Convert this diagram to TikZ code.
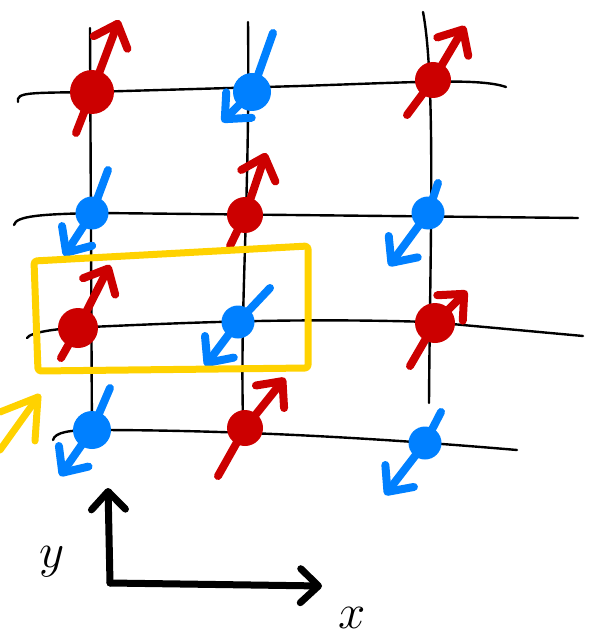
\documentclass[tikz,border=0pt]{standalone}
\usetikzlibrary{arrows.meta}
\definecolor{spinred}{HTML}{CC0000}
\definecolor{spinblue}{HTML}{0080FF}
\definecolor{hlyellow}{HTML}{FFD200}
\begin{document}
\begin{tikzpicture}[x=1pt,y=-1pt,
  gridline/.style={line width=2.4pt,line cap=round},
  spinarrow/.style={line width=8pt,line cap=round,line join=round,
    -{Straight Barb[length=20pt,width=36pt,line cap=round,line join=round]}},
  reddot/.style={circle,fill=spinred,minimum size=36pt,inner sep=0pt},
  bluedot/.style={circle,fill=spinblue,minimum size=33pt,inner sep=0pt},
  hlbox/.style={draw=hlyellow,line width=7pt,line join=round,rounded corners=3pt},
  axis/.style={line width=7pt,line cap=round,line join=round},
  axlabel/.style={inner sep=0pt,font=\Large,scale=3.4}]
\useasboundingbox (0,0) rectangle (590,639);

% grid lines
\coordinate (v1t) at (90,28);  \coordinate (v1b) at (92,445);
\coordinate (v2t) at (248,22); \coordinate (v2b) at (243,420);
\coordinate (v3t) at (423,12); \coordinate (v3b) at (429,403);
\draw[gridline] (v1t) -- (v1b);
\draw[gridline] (v2t) .. controls (250,200) and (240,300) .. (v2b);
\draw[gridline] (v3t) .. controls (436,80) and (430,250) .. (v3b);

\coordinate (h1l) at (18,102); \coordinate (h1r) at (506,87);
\coordinate (h2l) at (14,225); \coordinate (h2r) at (578,218);
\coordinate (h3l) at (27,338); \coordinate (h3r) at (583,336);
\coordinate (h4l) at (53,440); \coordinate (h4r) at (517,450);
\draw[gridline] (h1l) .. controls (16,92) and (30,93) .. (90,92) -- (300,86) .. controls (420,82) and (480,78) .. (h1r);
\draw[gridline] (h2l) .. controls (16,216) and (40,214) .. (100,213) -- (h2r);
\draw[gridline] (h3l) .. controls (30,332) and (60,328) .. (90,327) .. controls (200,322) and (300,318) .. (430,322) -- (h3r);
\draw[gridline] (h4l) .. controls (55,432) and (70,430) .. (95,430) .. controls (250,430) and (400,440) .. (h4r);

% spins, row 1
\node[reddot,minimum size=44pt]  (s11) at (92,92) {};
\node[bluedot,minimum size=38pt] (s12) at (252,92) {};
\node[reddot]  (s13) at (433,80) {};
% row 2
\node[bluedot] (s21) at (92,213) {};
\node[reddot]  (s22) at (245,215) {};
\node[bluedot] (s23) at (428,213) {};
% row 3
\node[reddot,minimum size=40pt]  (s31) at (78,328) {};
\node[bluedot] (s32) at (238,322) {};
\node[reddot,minimum size=40pt]  (s33) at (435,323) {};
% row 4
\node[bluedot,minimum size=38pt] (s41) at (92,430) {};
\node[reddot]  (s42) at (245,428) {};
\node[bluedot] (s43) at (425,443) {};

\coordinate (t11) at (76,133);  \coordinate (a11) at (119,20);
\coordinate (t12) at (273,33);  \coordinate (a12) at (222,122);
\coordinate (t13) at (407,115); \coordinate (a13) at (465,26);
\coordinate (t21) at (108,170); \coordinate (a21) at (64,256);
\coordinate (t22) at (230,246); \coordinate (a22) at (266,153);
\coordinate (t23) at (438,183); \coordinate (a23) at (389,266);
\coordinate (t31) at (61,358);  \coordinate (a31) at (110,265);
\coordinate (t32) at (270,288); \coordinate (a32) at (205,366);
\coordinate (t33) at (410,366); \coordinate (a33) at (467,291);
\coordinate (t41) at (110,388); \coordinate (a41) at (60,476);
\coordinate (t42) at (218,476); \coordinate (a42) at (285,378);
\coordinate (t43) at (441,412); \coordinate (a43) at (385,495);

\draw[spinarrow,spinred]  (t11) -- (s11.center) -- (a11);
\draw[spinarrow,spinblue] (t12) -- (s12.center) -- (a12);
\draw[spinarrow,spinred]  (t13) -- (s13.center) -- (a13);
\draw[spinarrow,spinblue] (t21) -- (s21.center) -- (a21);
\draw[spinarrow,spinred]  (t22) -- (s22.center) -- (a22);
\draw[spinarrow,spinblue] (t23) -- (s23.center) -- (a23);
\draw[spinarrow,spinred]  (t31) -- (s31.center) -- (a31);
\draw[spinarrow,spinblue] (t32) -- (s32.center) -- (a32);
\draw[spinarrow,spinred]  (t33) -- (s33.center) -- (a33);
\draw[spinarrow,spinblue] (t41) -- (s41.center) -- (a41);
\draw[spinarrow,spinred]  (t42) -- (s42.center) -- (a42);
\draw[spinarrow,spinblue] (t43) -- (s43.center) -- (a43);

% highlighted unit cell
\draw[hlbox] (34,261) -- (308,246) -- (308,368) -- (38,371) -- cycle;

% yellow pointer arrow
\coordinate (ya) at (38,397);
\coordinate (yb) at (0,450);
\draw[hlyellow,line width=7pt,line cap=round,line join=round]
  (0,412) -- (ya) -- (35,441);
\draw[hlyellow,line width=7pt,line cap=round] (yb) -- (ya);

% axes
\coordinate (o) at (110,583);
\coordinate (ytip) at (108,488);
\coordinate (xtip) at (322,586);
\draw[axis,-{Straight Barb[length=18pt,width=34pt,line cap=round,line join=round]}] (o) -- (ytip);
\draw[axis,-{Straight Barb[length=18pt,width=34pt,line cap=round,line join=round]}] (o) -- (xtip);
\node[axlabel] (ylab) at (52,562) {$y$};
\node[axlabel] (xlab) at (352,618) {$x$};
\end{tikzpicture}
\end{document}
